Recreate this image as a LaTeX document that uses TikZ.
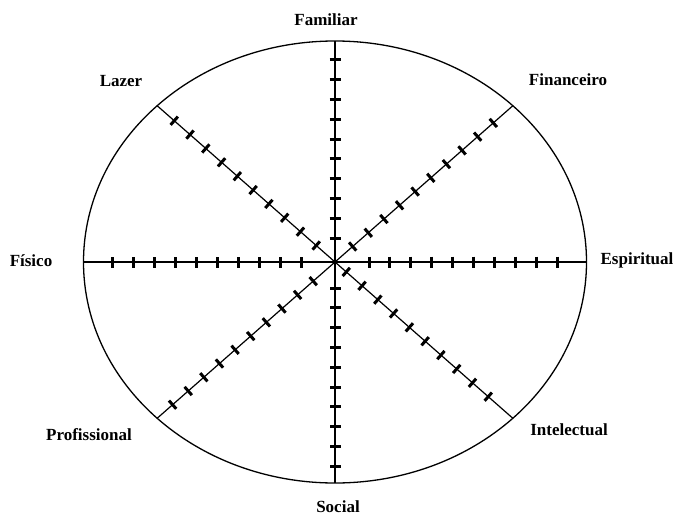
\documentclass[tikz,border=0pt]{standalone}
\usepackage{fontspec}
\setmainfont{Liberation Serif}
\usetikzlibrary{calc}
\tikzset{
  axisline/.style={line width=1.2pt, black},
  tickmark/.style={line width=3pt, black},
  arealabel/.style={font=\fontsize{17}{19}\selectfont\bfseries, inner sep=0pt},
}
\begin{document}
\begin{tikzpicture}[x=1pt,y=-1pt]
  \useasboundingbox (0,0) rectangle (676,516);
  \coordinate (c) at (335,262);

  % Outline of the wheel
  \draw[line width=1.3pt] (c) ellipse [x radius=251.5, y radius=221];

  % Ends of the eight spokes
  \foreach \name/\ang in {esp/0, fin/45, fam/90, laz/135, fis/180, prof/225, soc/270, int/315}
    \coordinate (\name) at ($(c)+({251.5*cos(\ang)},{-221*sin(\ang)})$);

  % Spokes
  \draw[axisline] (fis) -- (esp);
  \draw[axisline] (fam) -- (soc);
  \draw[axisline] (laz) -- (int);
  \draw[axisline] (fin) -- (prof);

  % Scale marks, ten on each spoke
  \foreach \ang/\first/\gap in {0/34/20.9, 180/34/20.9, 90/24/19.8, 270/26/19.8,
                                135/25/21, 45/23.5/20.8, 315/15/21, 225/29/20.8}{
    \pgfmathsetmacro\vx{251.5*cos(\ang)}
    \pgfmathsetmacro\vy{-221*sin(\ang)}
    \pgfmathsetmacro\vl{veclen(\vx,\vy)}
    \pgfmathsetmacro\nx{\vx/\vl}
    \pgfmathsetmacro\ny{\vy/\vl}
    \foreach \k in {0,...,9}{
      \pgfmathsetmacro\dd{\first+\k*\gap}
      \draw[tickmark] ($(c)+({\dd*\nx+5.5*\ny},{\dd*\ny-5.5*\nx})$)
                   -- ($(c)+({\dd*\nx-5.5*\ny},{\dd*\ny+5.5*\nx})$);
    }
  }

  % Labels
  \node[arealabel] (lblfam)  at (326,20)  {Familiar};
  \node[arealabel] (lblfin)  at (568,80)  {Financeiro};
  \node[arealabel] (lblesp)  at (637,260) {Espiritual};
  \node[arealabel] (lblint)  at (569,430) {Intelectual};
  \node[arealabel] (lblsoc)  at (338,507) {Social};
  \node[arealabel] (lblprof) at (89,435)  {Profissional};
  \node[arealabel] (lblfis)  at (31,261)  {Físico};
  \node[arealabel] (lbllaz)  at (121,81)  {Lazer};
\end{tikzpicture}
\end{document}
